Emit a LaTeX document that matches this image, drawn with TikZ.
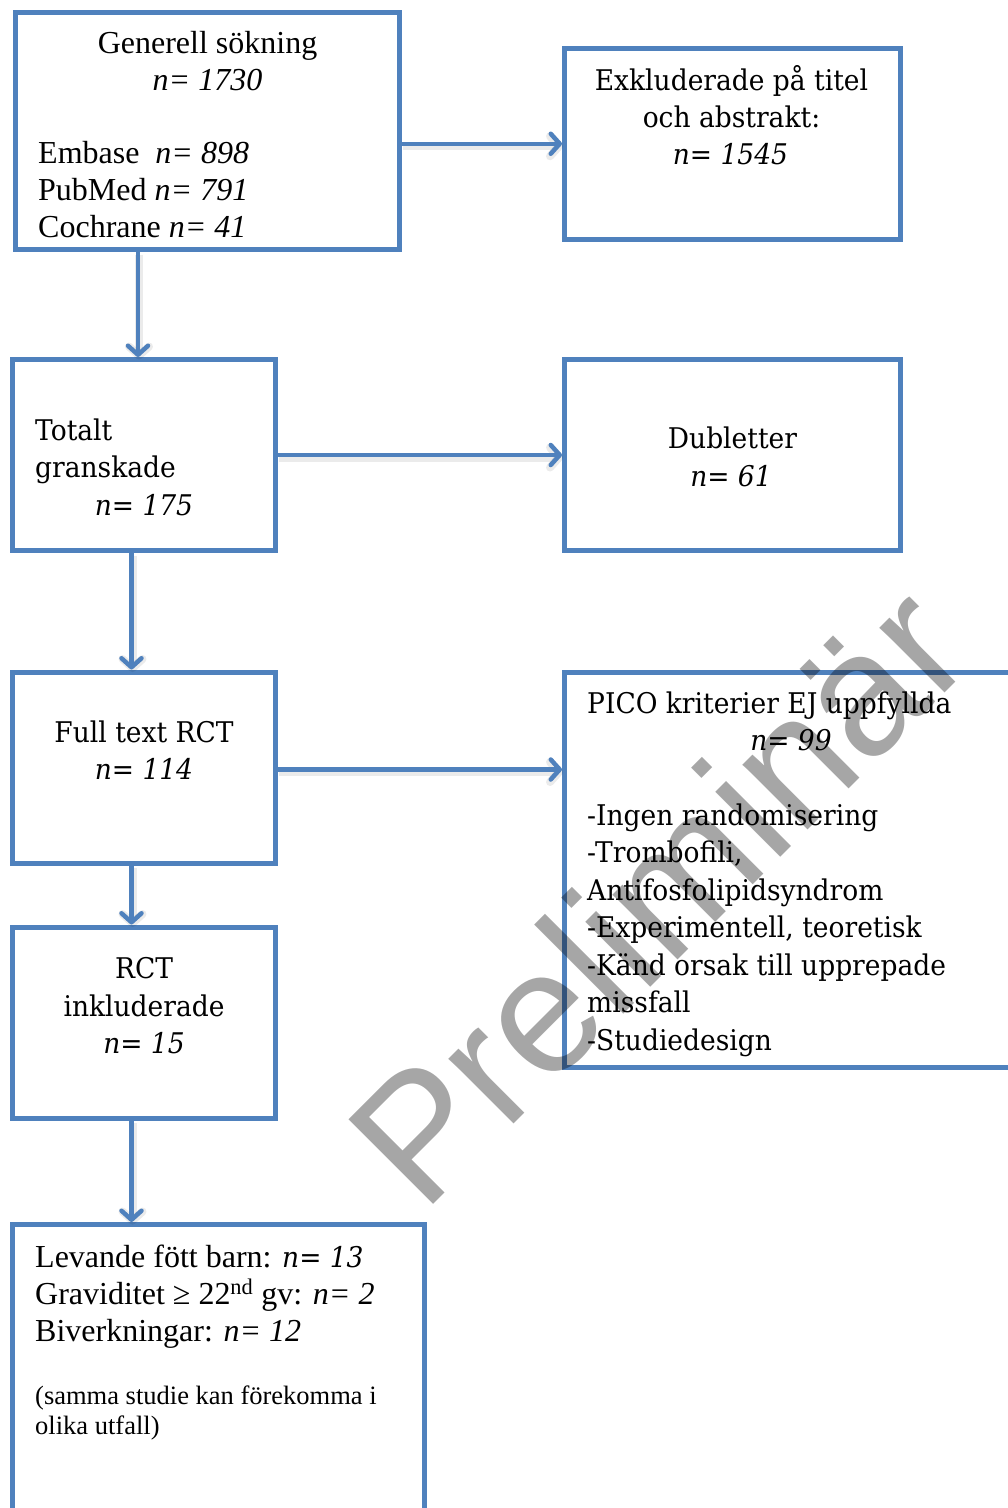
\documentclass[tikz,border=0pt]{standalone}
\usepackage{fontspec}
\setmainfont{Liberation Serif}
\newfontfamily\cam{DejaVu Serif}[FakeStretch=0.93]
\newfontfamily\wmfont{Liberation Sans}
\usetikzlibrary{arrows.meta,calc}
\definecolor{ob}{HTML}{4F81BD}
\tikzset{
  box/.style={draw=ob, line width=5pt, inner sep=0pt, fill=white},
  tnr/.style={inner sep=0pt, font=\fontsize{32}{37}\selectfont},
  tnrs/.style={inner sep=0pt, font=\fontsize{26.5}{30}\selectfont},
  cmb/.style={inner sep=0pt, font=\cam\fontsize{28.5}{37.5}\selectfont},
  conn/.style={draw=ob, line width=4.5pt, line cap=round,
    -{Straight Barb[length=9pt,width=20pt,round]},
    preaction={draw=black, draw opacity=0.08, line width=8pt,
      transform canvas={xshift=1pt,yshift=-2.5pt}}},
}
\begin{document}
\begin{tikzpicture}[x=1pt,y=-1pt]
\useasboundingbox (0,0) rectangle (1008,1508);
\clip (0,0) rectangle (1008,1508);
\fill[white] (0,0) rectangle (1008,1508);

% boxes
\node[box, minimum width=384pt, minimum height=237.5pt] (b1) at (207.5,130.75) {};
\node[box, minimum width=336pt, minimum height=191.5pt] (b2) at (732.5,143.75) {};
\node[box, minimum width=263pt, minimum height=191pt] (b3) at (144,455) {};
\node[box, minimum width=336pt, minimum height=191pt] (b4) at (732.5,455) {};
\node[box, minimum width=263pt, minimum height=191pt] (b5) at (144,767.5) {};
\node[box, minimum width=456pt, minimum height=395pt] (b6) at (792.5,870) {};
\node[box, minimum width=263pt, minimum height=191pt] (b7) at (144,1022.5) {};
\node[box, minimum width=412pt, minimum height=305pt] (b8) at (218.5,1377) {};

% connectors
\draw[conn] (b1.east |- b2.west) -- (b2.west);
\draw[conn] ([xshift=-6pt]b3.north |- b1.south) -- ([xshift=-6pt]b3.north);
\draw[conn] (b3.east) -- (b4.west);
\draw[conn] ([xshift=-12.5pt]b3.south) -- ([xshift=-12.5pt]b5.north);
\draw[conn] ([yshift=-2pt]b5.east) -- ([yshift=-2pt]b5.east -| b6.west);
\draw[conn] ([xshift=-12.5pt]b5.south) -- ([xshift=-12.5pt]b7.north);
\draw[conn] ([xshift=-12.5pt]b7.south) -- ([xshift=-12.5pt]b7.south |- b8.north);

% box 1
\node[tnr, anchor=base] (t1a) at (207.5,53) {Generell sökning};
\node[tnr, anchor=base] (t1b) at (207.5,90) {\itshape n= 1730};
\node[tnr, anchor=base west] (t1c) at (38,163) {Embase\ \ \textit{n= 898}};
\node[tnr, anchor=base west] (t1d) at (38,200) {PubMed \textit{n= 791}};
\node[tnr, anchor=base west] (t1e) at (38,237) {Cochrane \textit{n= 41}};

% box 2
\node[cmb, anchor=base] (t2a) at (731.5,90) {Exkluderade på titel};
\node[cmb, anchor=base] (t2b) at (731.5,127) {och abstrakt:};
\node[cmb, anchor=base] (t2c) at (730.5,164) {\itshape n= 1545};

% box 3
\node[cmb, anchor=base west] (t3a) at (35,440) {Totalt};
\node[cmb, anchor=base west] (t3b) at (35,477) {granskade};
\node[cmb, anchor=base] (t3c) at (144,515) {\itshape n= 175};

% box 4
\node[cmb, anchor=base] (t4a) at (732.5,448) {Dubletter};
\node[cmb, anchor=base] (t4b) at (731,486) {\itshape n= 61};

% box 5
\node[cmb, anchor=base] (t5a) at (144,742) {Full text RCT};
\node[cmb, anchor=base] (t5b) at (144,779) {\itshape n= 114};

% box 6
\node[cmb, anchor=base west] (t6a) at (587,713) {PICO kriterier EJ uppfyllda};
\node[cmb, anchor=base] (t6b) at (791,750) {\itshape n= 99};
\node[cmb, anchor=base west] (t6c) at (587,825) {-Ingen randomisering};
\node[cmb, anchor=base west] (t6d) at (587,862.5) {-Trombofili,};
\node[cmb, anchor=base west] (t6e) at (587,900) {Antifosfolipidsyndrom};
\node[cmb, anchor=base west] (t6f) at (587,937.5) {-Experimentell, teoretisk};
\node[cmb, anchor=base west] (t6g) at (587,975) {-Känd orsak till upprepade};
\node[cmb, anchor=base west] (t6h) at (587,1012.5) {missfall};
\node[cmb, anchor=base west] (t6i) at (587,1050) {-Studiedesign};

% box 7
\node[cmb, anchor=base] (t7a) at (144,978) {RCT};
\node[cmb, anchor=base] (t7b) at (144,1016) {inkluderade};
\node[cmb, anchor=base] (t7c) at (144,1053) {\itshape n= 15};

% box 8
\node[tnr, anchor=base west] (t8a) at (35,1267) {Levande fött barn: {\cam\fontsize{28.5}{37.5}\selectfont\itshape n= 13}};
\node[tnr, anchor=base west] (t8b) at (35,1304) {Graviditet ≥ 22\textsuperscript{nd} gv: \textit{n= 2}};
\node[tnr, anchor=base west] (t8c) at (35,1341) {Biverkningar: \textit{n= 12}};
\node[tnrs, anchor=base west] (t8d) at (35,1404) {(samma studie kan förekomma i};
\node[tnrs, anchor=base west] (t8e) at (35,1434) {olika utfall)};

% watermark
\node[rotate=45, anchor=base west, inner sep=0pt, text=black, text opacity=0.35,
  font=\wmfont\fontsize{174}{174}\selectfont] (wm) at (423.5,1214.5) {Preliminär};
\end{tikzpicture}
\end{document}
